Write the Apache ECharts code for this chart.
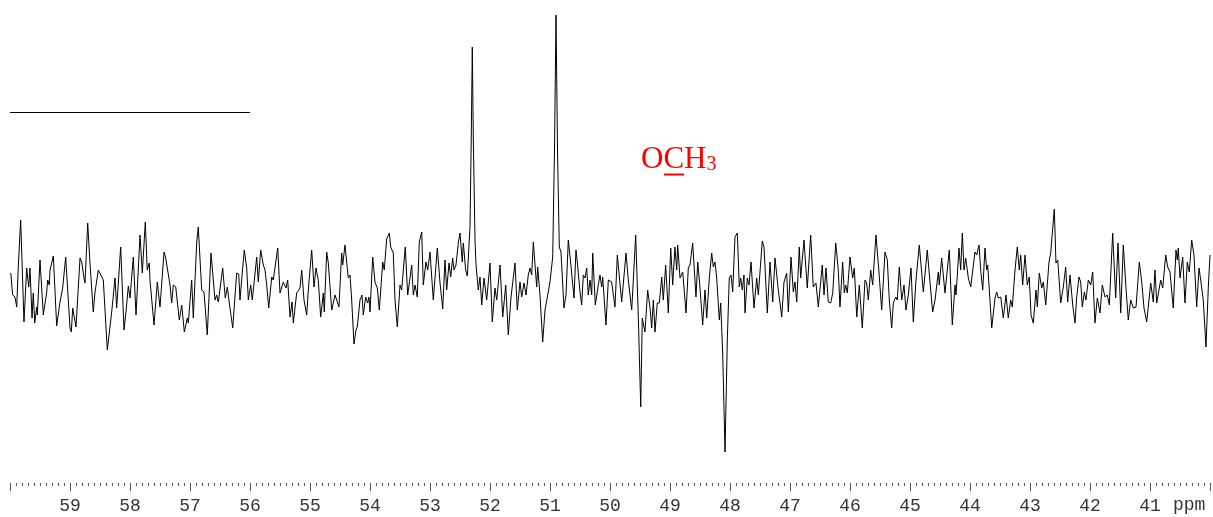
<!DOCTYPE html>
<html>
<head>
<meta charset="utf-8">
<script src="https://cdn.jsdelivr.net/npm/echarts@6/dist/echarts.min.js"></script>
<style>
html,body{margin:0;padding:0;background:#fff;}
#chart{width:1213px;height:517px;}
</style>
</head>
<body>
<div id="chart"></div>
<script>
// 13C spectrum trace: [chemical shift (ppm), intensity (a.u.)]
const spectrumPoints = [
[59.988,12],[59.955,-10],[59.917,-12],[59.888,-22],[59.862,18],[59.822,65],[59.767,-37],[59.722,17],[59.688,-2],[59.667,17],
[59.633,-33],[59.612,-8],[59.588,-38],[59.555,-22],[59.545,-30],[59.5,25],[59.445,-30],[59.388,-7],[59.372,5],[59.345,0],
[59.333,15],[59.278,29],[59.222,-41],[59.167,-17],[59.122,-3],[59.072,28],[59.0,-43],[58.978,-47],[58.955,-23],[58.9,-42],
[58.833,27],[58.805,23],[58.767,7],[58.75,2],[58.705,62],[58.667,22],[58.612,-27],[58.583,-7],[58.528,15],[58.5,17],
[58.445,5],[58.378,-65],[58.305,-27],[58.25,7],[58.222,-23],[58.155,38],[58.1,-45],[58.067,-27],[58.028,-1],[58.0,-13],
[57.945,28],[57.9,-30],[57.833,50],[57.795,12],[57.745,63],[57.712,15],[57.678,22],[57.667,5],[57.6,-40],[57.545,3],
[57.5,-22],[57.433,33],[57.405,27],[57.388,28],[57.333,0],[57.305,-18],[57.278,0],[57.238,-2],[57.178,-35],[57.138,-20],
[57.095,-47],[57.045,-33],[57.028,-38],[56.972,5],[56.945,-33],[56.888,43],[56.862,58],[56.805,-5],[56.778,-3],[56.767,-7],
[56.712,-50],[56.65,32],[56.583,-15],[56.555,-10],[56.528,-17],[56.455,17],[56.412,-13],[56.378,-2],[56.345,-18],[56.288,-43],
[56.222,12],[56.188,11],[56.167,-15],[56.128,13],[56.095,35],[56.055,17],[56.028,-15],[55.988,0],[55.962,-15],[55.888,28],
[55.862,3],[55.822,35],[55.778,20],[55.75,15],[55.722,0],[55.688,-23],[55.638,8],[55.612,5],[55.538,37],[55.5,-8],
[55.445,3],[55.4,-3],[55.372,5],[55.333,-32],[55.3,-17],[55.278,-38],[55.222,-8],[55.167,-3],[55.138,15],[55.1,-15],
[55.055,-30],[55.028,-5],[54.972,35],[54.933,-2],[54.9,17],[54.862,5],[54.822,-32],[54.778,-8],[54.762,-27],[54.722,33],
[54.695,22],[54.638,-25],[54.583,-10],[54.555,-8],[54.517,-22],[54.472,32],[54.455,20],[54.417,40],[54.362,7],[54.333,10],
[54.305,-15],[54.267,-59],[54.233,-45],[54.212,-42],[54.167,-15],[54.133,-10],[54.112,-30],[54.072,-12],[54.038,-18],[54.017,-12],
[54.0,-27],[53.955,28],[53.917,3],[53.878,-3],[53.845,-25],[53.788,23],[53.762,15],[53.722,46],[53.678,52],[53.655,38],
[53.612,32],[53.583,-15],[53.545,-42],[53.5,0],[53.472,-5],[53.412,38],[53.372,-10],[53.333,7],[53.305,20],[53.278,-10],
[53.25,0],[53.212,-12],[53.178,43],[53.138,53],[53.112,0],[53.067,23],[53.038,15],[53.0,33],[52.945,-15],[52.878,37],
[52.833,2],[52.788,-24],[52.75,25],[52.722,-5],[52.683,22],[52.655,8],[52.622,27],[52.6,15],[52.567,20],[52.528,42],
[52.5,52],[52.462,23],[52.445,42],[52.405,15],[52.378,9],[52.333,58],[52.313,145],[52.295,238],[52.278,145],[52.25,45],
[52.233,20],[52.195,-5],[52.167,8],[52.138,-20],[52.1,7],[52.055,-15],[52.0,22],[51.962,-37],[51.917,-3],[51.888,-15],
[51.833,20],[51.788,-32],[51.738,0],[51.695,-50],[51.65,-12],[51.583,22],[51.545,-25],[51.5,3],[51.472,-12],[51.433,2],
[51.4,-10],[51.362,10],[51.333,17],[51.305,10],[51.278,43],[51.222,-2],[51.205,18],[51.167,-10],[51.122,-57],[51.083,-25],
[51.055,-27],[51.0,3],[50.955,28],[50.925,135],[50.9,270],[50.875,135],[50.845,38],[50.817,33],[50.767,-23],[50.733,-10],
[50.695,45],[50.655,22],[50.628,23],[50.6,-13],[50.567,35],[50.545,23],[50.5,-7],[50.472,-20],[50.445,10],[50.417,7],
[50.388,17],[50.362,-10],[50.333,5],[50.305,-10],[50.288,32],[50.245,-20],[50.195,0],[50.167,10],[50.138,-2],[50.122,8],
[50.067,-40],[50.028,5],[49.972,3],[49.917,-22],[49.878,30],[49.805,-17],[49.733,32],[49.695,5],[49.638,-25],[49.572,50],
[49.528,-32],[49.488,-122],[49.462,-33],[49.417,-47],[49.372,-5],[49.333,-23],[49.305,-43],[49.278,-15],[49.25,-47],[49.212,-18],
[49.178,-18],[49.138,8],[49.112,-15],[49.072,20],[49.028,-28],[48.988,37],[48.955,0],[48.917,38],[48.888,15],[48.872,40],
[48.833,7],[48.788,13],[48.733,-28],[48.695,17],[48.667,20],[48.622,42],[48.567,-12],[48.538,23],[48.5,-3],[48.455,-40],
[48.417,-5],[48.388,-33],[48.345,7],[48.305,32],[48.278,18],[48.25,23],[48.222,7],[48.178,-35],[48.155,-18],[48.122,-68],
[48.083,-167],[48.045,-55],[48.012,7],[47.983,10],[47.955,-7],[47.917,48],[47.878,52],[47.845,-2],[47.822,7],[47.795,-5],
[47.767,10],[47.75,-28],[47.712,7],[47.683,0],[47.65,23],[47.6,-23],[47.555,7],[47.528,-10],[47.462,44],[47.433,38],
[47.378,-28],[47.333,23],[47.288,-17],[47.25,27],[47.195,-5],[47.138,-32],[47.1,3],[47.055,12],[47.028,-27],[46.983,28],
[46.945,-7],[46.917,3],[46.888,-17],[46.845,38],[46.822,7],[46.767,45],[46.712,-3],[46.655,50],[46.612,-2],[46.567,2],
[46.528,-22],[46.462,20],[46.433,-10],[46.4,17],[46.362,-17],[46.322,-18],[46.288,-8],[46.238,42],[46.195,15],[46.167,-22],
[46.122,23],[46.095,-8],[46.072,0],[46.045,-8],[46.0,28],[45.955,7],[45.928,17],[45.888,-32],[45.845,0],[45.795,-43],
[45.75,5],[45.722,2],[45.695,-15],[45.655,15],[45.622,0],[45.567,50],[45.517,13],[45.472,-25],[45.417,33],[45.378,25],
[45.345,-15],[45.305,-43],[45.278,-18],[45.238,-12],[45.212,-15],[45.178,18],[45.138,-15],[45.1,0],[45.067,-25],[45.028,-10],
[44.983,17],[44.945,-37],[44.9,5],[44.878,3],[44.845,40],[44.778,-7],[44.712,35],[44.667,3],[44.622,-27],[44.583,-15],
[44.528,13],[44.512,0],[44.472,27],[44.445,26],[44.417,-8],[44.345,35],[44.295,-40],[44.25,0],[44.233,-10],[44.183,37],
[44.155,15],[44.128,52],[44.1,15],[44.072,27],[44.028,7],[43.988,-2],[43.955,-3],[43.917,33],[43.888,30],[43.85,40],
[43.822,15],[43.788,-5],[43.75,37],[43.722,15],[43.705,20],[43.638,-43],[43.583,-13],[43.555,-7],[43.528,-13],[43.488,-12],
[43.445,-33],[43.4,-10],[43.362,-33],[43.322,-15],[43.295,-22],[43.25,15],[43.212,38],[43.178,15],[43.155,30],[43.122,0],
[43.083,30],[43.045,0],[43.012,8],[42.983,-30],[42.945,-38],[42.9,-5],[42.878,-22],[42.845,12],[42.805,-3],[42.778,3],
[42.738,-20],[42.683,23],[42.655,32],[42.622,33],[42.595,76],[42.567,22],[42.538,25],[42.488,-18],[42.445,-2],[42.405,18],
[42.372,-17],[42.333,10],[42.288,-20],[42.25,-38],[42.222,-12],[42.183,8],[42.155,3],[42.128,-22],[42.095,-7],[42.067,-15],
[42.028,5],[41.988,0],[41.955,13],[41.917,-38],[41.878,-13],[41.833,-28],[41.795,0],[41.75,-12],[41.712,-10],[41.678,-20],
[41.622,52],[41.572,-13],[41.533,42],[41.488,-28],[41.445,40],[41.4,-3],[41.362,-35],[41.322,-15],[41.278,-23],[41.233,-22],
[41.178,23],[41.138,3],[41.1,-23],[41.055,-37],[40.988,2],[40.945,-17],[40.917,15],[40.888,-18],[40.862,-17],[40.822,5],
[40.788,-3],[40.738,30],[40.705,18],[40.667,13],[40.638,12],[40.612,-23],[40.567,35],[40.545,25],[40.528,37],[40.5,7],
[40.455,28],[40.417,-18],[40.378,23],[40.345,13],[40.305,45],[40.267,30],[40.222,-22],[40.183,17],[40.155,5],[40.112,-15],
[40.067,-62],[40.028,-2],[40.0,30]
];
// horizontal reference (integral) line: ppm start/end and level
const integralLine = { from: 60, to: 56, level: 173 };
// axis range and ticks
const axisMinPpm = 40, axisMaxPpm = 60, majorStep = 1;
const intensityMin = -198, intensityMax = 285;
const peakLabel = { prefix: 'O', underlined: 'C', suffix: 'H', subscript: '3' };
const unitLabel = 'ppm';

const chart = echarts.init(document.getElementById('chart'), null, {renderer: 'canvas'});
const monoFont = '"Liberation Mono", "DejaVu Sans Mono", monospace';
const serifFont = '"Liberation Serif", "DejaVu Serif", serif';

chart.setOption({
  animation: false,
  backgroundColor: '#ffffff',
  grid: { left: 10, right: 3, top: 0, bottom: 34, containLabel: false },
  xAxis: {
    type: 'value',
    inverse: true,
    min: axisMinPpm,
    max: axisMaxPpm,
    interval: majorStep,
    axisLine: { show: false, onZero: false },
    axisTick: { show: true, length: 8, lineStyle: { color: '#555', width: 1 } },
    minorTick: { show: true, splitNumber: 10, length: 3, lineStyle: { color: '#555', width: 1 } },
    splitLine: { show: false },
    minorSplitLine: { show: false },
    axisLabel: {
      margin: 14,
      fontFamily: monoFont,
      fontSize: 18,
      color: '#333',
      showMinLabel: false,
      showMaxLabel: false,
      formatter: v => (v === axisMinPpm || v === axisMaxPpm) ? '' : String(v)
    }
  },
  yAxis: {
    type: 'value',
    min: intensityMin,
    max: intensityMax,
    show: false,
    splitLine: { show: false }
  },
  series: [{
    type: 'line',
    data: spectrumPoints,
    showSymbol: false,
    symbol: 'none',
    smooth: false,
    lineStyle: { color: '#000', width: 1 },
    clip: true,
    markLine: {
      silent: true,
      symbol: ['none', 'none'],
      label: { show: false },
      lineStyle: { color: '#000', width: 1, type: 'solid' },
      data: [[{ coord: [integralLine.from, integralLine.level] }, { coord: [integralLine.to, integralLine.level] }]]
    }
  }],
  graphic: [
    {
      type: 'text',
      left: 1173,
      top: 496,
      style: { text: unitLabel, font: '18px ' + monoFont, fill: '#333' }
    },
    {
      type: 'text',
      x: 641,
      y: 144,
      style: {
        text: '{n|' + peakLabel.prefix + peakLabel.underlined + peakLabel.suffix + '}{s|' + peakLabel.subscript + '}',
        rich: {
          n: { fontFamily: serifFont, fontSize: 31, lineHeight: 31, fill: '#ff0000', color: '#ff0000' },
          s: { fontFamily: serifFont, fontSize: 20, lineHeight: 31, fill: '#ff0000', color: '#ff0000', verticalAlign: 'bottom' }
        },
        fill: '#ff0000'
      }
    },
    {
      type: 'line',
      shape: { x1: 664, y1: 174.5, x2: 684, y2: 174.5 },
      style: { stroke: '#ff0000', lineWidth: 2 }
    }
  ]
});
</script>
</body>
</html>
